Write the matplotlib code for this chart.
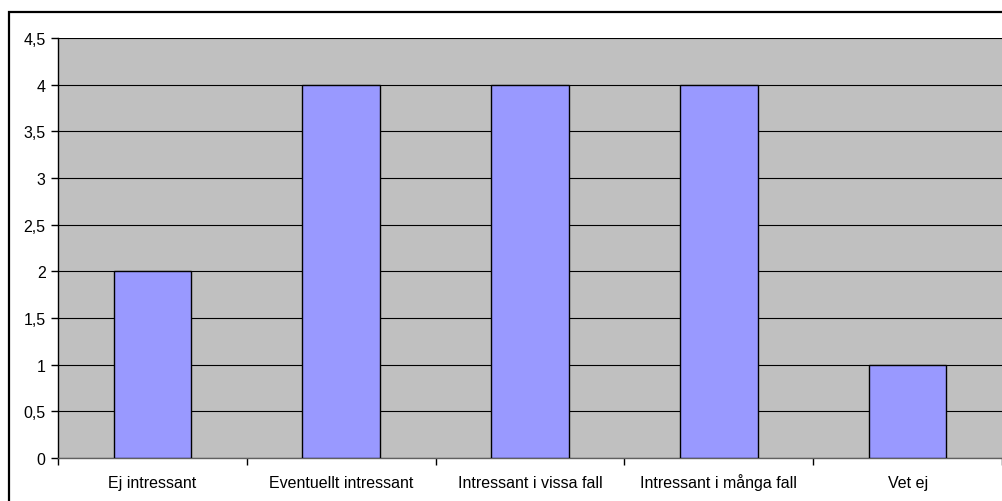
import matplotlib
matplotlib.use("Agg")
import matplotlib.pyplot as plt
from matplotlib.patches import Rectangle
import numpy as np

categories = ["Ej intressant", "Eventuellt intressant", "Intressant i vissa fall",
              "Intressant i många fall", "Vet ej"]
values = [2, 4, 4, 4, 1]
yticks = [0, 0.5, 1, 1.5, 2, 2.5, 3, 3.5, 4, 4.5]
ytick_labels = ["0", "0,5", "1", "1,5", "2", "2,5", "3", "3,5", "4", "4,5"]

plt.rcParams['font.family'] = ['Liberation Sans', 'DejaVu Sans']

W, H = 1002, 502
fig = plt.figure(figsize=(W / 100, H / 100), dpi=100)
fig.patch.set_facecolor("white")

# outer chart border (right & bottom are cut off)
fig.patches.append(Rectangle((9 / W, -0.1), 1.2, (H - 12.5) / H + 0.1,
                             transform=fig.transFigure, fill=False,
                             edgecolor="black", linewidth=1.6))

ax = fig.add_axes([58 / W, (H - 459) / H, 1 - 58 / W, (459 - 39) / H])
ax.set_facecolor("#C0C0C0")

x = np.arange(len(categories))
ax.bar(x, values, width=0.41, color="#9999FF", edgecolor="black", linewidth=1, zorder=3)

ax.set_xlim(-0.5, len(categories) - 0.5)
ax.set_ylim(0, 4.5)
ax.set_yticks(yticks)
ax.set_yticklabels(ytick_labels, fontsize=11.5)
ax.yaxis.grid(True, color="black", linewidth=0.8, zorder=0)
ax.set_axisbelow(True)

ax.set_xticks(np.arange(-0.5, len(categories), 1.0))
ax.set_xticklabels([])
ax.set_xticks(x, minor=True)
ax.set_xticklabels(categories, minor=True, fontsize=11.5, va="baseline")
ax.tick_params(axis="x", which="minor", length=0, pad=21)
ax.tick_params(axis="x", which="major", length=5, width=1, color="black", direction="out")
ax.tick_params(axis="y", length=5, width=1, color="black", direction="out", pad=4)

for s in ["top", "right"]:
    ax.spines[s].set_visible(False)
ax.spines["left"].set_color("black")
ax.spines["left"].set_linewidth(1)
ax.spines["bottom"].set_color("#606060")
ax.spines["bottom"].set_linewidth(1)

fig.savefig("out.png", dpi=100)
